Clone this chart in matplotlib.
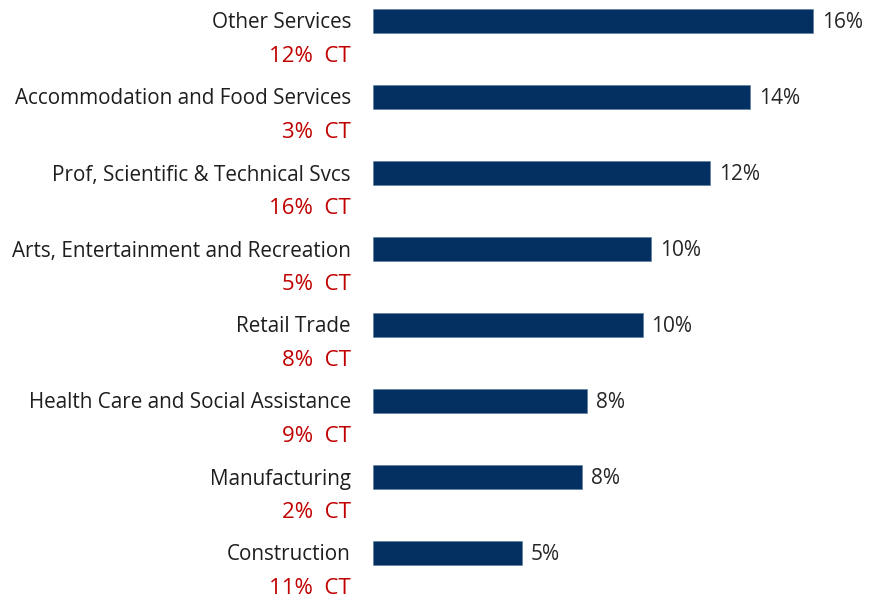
import matplotlib
matplotlib.use("Agg")
import matplotlib.pyplot as plt
from matplotlib.transforms import offset_copy

plt.rcParams['font.family'] = ['Open Sans', 'DejaVu Sans']

industries = [
    "Other Services",
    "Accommodation and Food Services",
    "Prof, Scientific & Technical Svcs",
    "Arts, Entertainment and Recreation",
    "Retail Trade",
    "Health Care and Social Assistance",
    "Manufacturing",
    "Construction",
]
shares = [16.0, 13.7, 12.25, 10.1, 9.8, 7.8, 7.6, 5.4]
ct_shares = [12, 3, 16, 5, 8, 9, 2, 11]

W, H = 878, 598
fig = plt.figure(figsize=(W / 100, H / 100), dpi=100)
left_px = 373
ax = fig.add_axes([left_px / W, 0, 1 - left_px / W, 1])

row_px = 76.0
first_px = 21.0
ax.set_ylim(len(industries) - 1 + (H - first_px - row_px * (len(industries) - 1)) / row_px,
            -first_px / row_px)
px_per_unit = 27.5
ax.set_xlim(0, (W - left_px) / px_per_unit)

ypos = list(range(len(industries)))
navy = "#032f61"
ax.barh(ypos, shares, height=0.31, color=navy, edgecolor="#5a7aa0", linewidth=0.4)

name_tr = offset_copy(ax.transData, fig=fig, x=-22, y=-2, units='dots')
val_tr = offset_copy(ax.transData, fig=fig, x=9, y=-1.5, units='dots')
for y, name, v, ct in zip(ypos, industries, shares, ct_shares):
    ax.text(0, y, name, transform=name_tr, ha='right', va='center',
            fontsize=14.9, color="#1e1e1e", clip_on=False)
    ax.text(0, y + 33 / row_px, f"{ct}%  CT", transform=name_tr, ha='right',
            va='center', fontsize=16, color="#c00000", clip_on=False)
    ax.text(v, y, f"{v:.0f}%", transform=val_tr, ha='left', va='center',
            fontsize=15, color="#262626", clip_on=False)

ax.axis('off')
fig.savefig("out.png", dpi=100, facecolor="white")
